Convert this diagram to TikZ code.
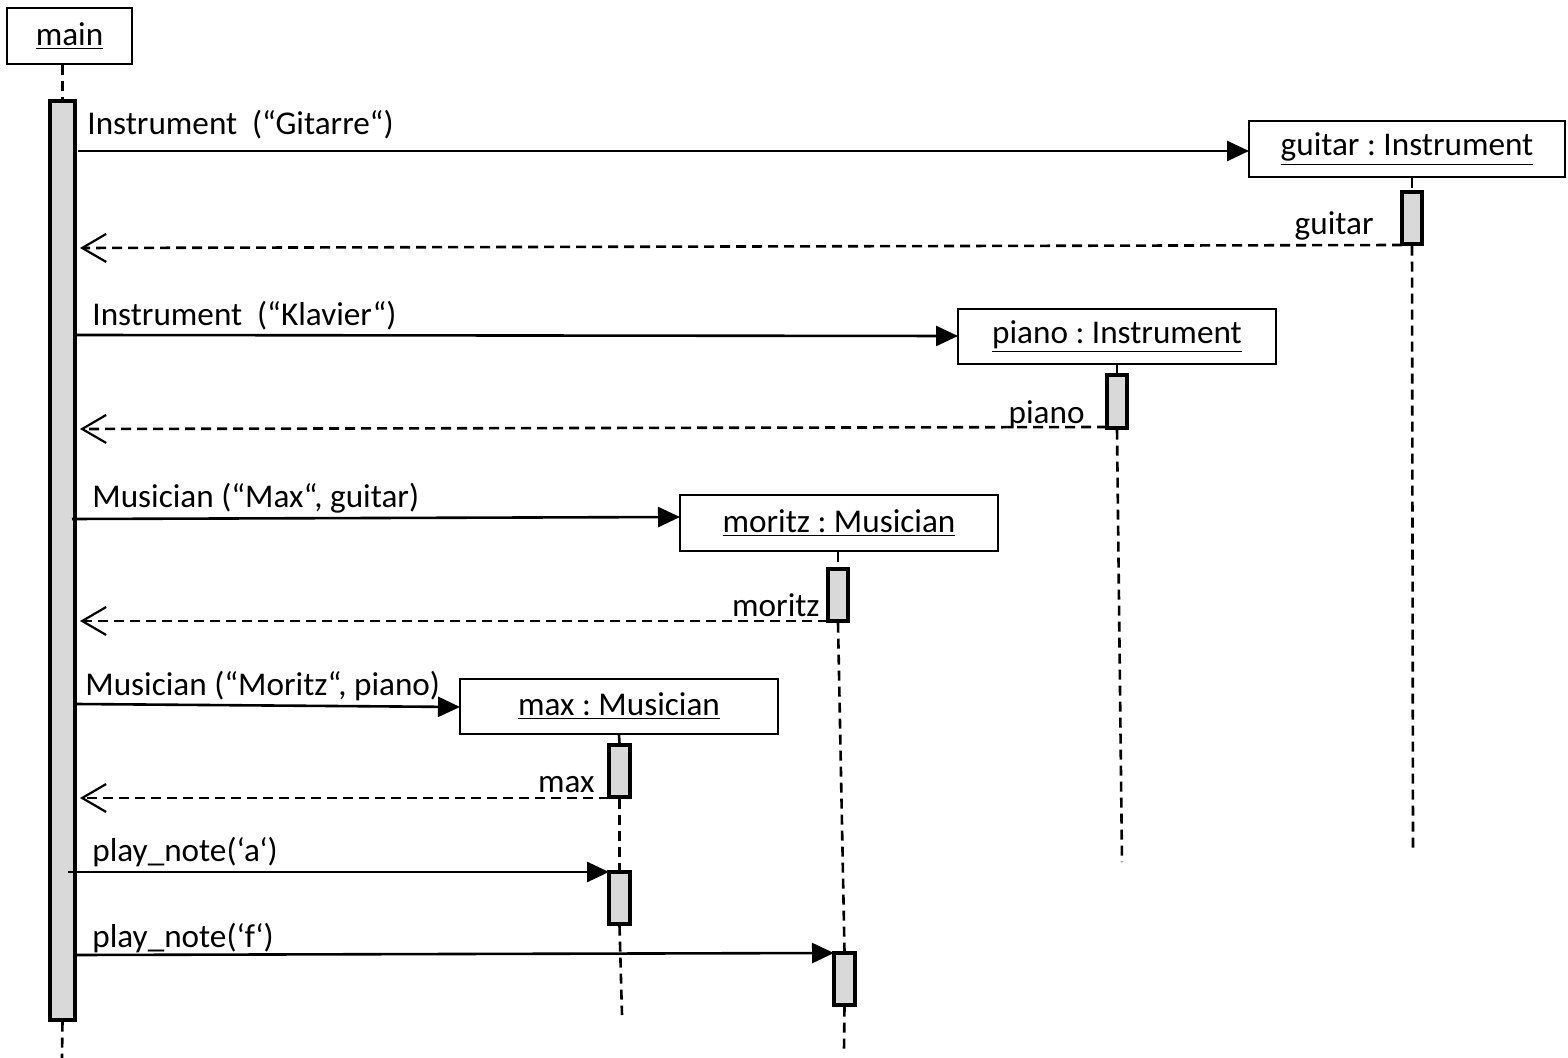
\documentclass[tikz,border=0pt]{standalone}
\usepackage{fontspec}
\setmainfont{Carlito}
\usetikzlibrary{arrows.meta}
\definecolor{actgray}{HTML}{D9D9D9}
\frenchspacing
\begin{document}
\begin{tikzpicture}[x=0.5pt,y=-0.5pt,
  objbox/.style={draw, line width=0.9pt, inner sep=0pt, font=\fontsize{16.6}{19}\selectfont\frenchspacing},
  act/.style={draw, line width=1.6pt, fill=actgray, inner sep=0pt, minimum width=10pt},
  msg/.style={line width=1.3pt, -{Triangle[length=11pt,width=10pt]}},
  ret/.style={line width=1.3pt, dash pattern=on 5pt off 3pt, -{Straight Barb[length=12pt,width=14pt,line width=1.1pt]}},
  life/.style={line width=1.3pt, dash pattern=on 5pt off 3pt},
  lbl/.style={inner sep=0pt, font=\fontsize{16.6}{19}\selectfont\frenchspacing}
]
\useasboundingbox[fill=white] (0,0) rectangle (1568,1058);

% object boxes
\node[objbox, minimum width=62.5pt, minimum height=28pt] (main) at (69.5,36) {\underline{main}};
\node[objbox, minimum width=158pt, minimum height=28pt] (guitar) at (1407,149) {\underline{guitar : Instrument}};
\node[objbox, minimum width=159pt, minimum height=27.5pt] (piano) at (1117,336.5) {\underline{piano : Instrument}};
\node[objbox, minimum width=159pt, minimum height=28pt] (moritz) at (839,523) {\underline{moritz : Musician}};
\node[objbox, minimum width=159pt, minimum height=27.5pt] (max) at (619,706.5) {\underline{max : Musician}};

% lifeline ends
\coordinate (mainend) at (62,1058);
\coordinate (guitarend) at (1413,850);
\coordinate (pianoend) at (1122,862);
\coordinate (moritzend) at (844,1050);
\coordinate (maxend) at (622,1015);

% activations
\node[act, minimum width=12.5pt, minimum height=459.5pt] (mainact) at (62.5,560.5) {};
\node[act, minimum height=26pt] (gact) at (1412,218) {};
\node[act, minimum height=26.5pt] (pact) at (1117,401.5) {};
\node[act, minimum height=26pt] (mzactA) at (838,595) {};
\node[act, minimum width=10.5pt, minimum height=26pt] (mzactB) at (844.5,979) {};
\node[act, minimum width=10.5pt, minimum height=26pt] (mxactA) at (619.5,771) {};
\node[act, minimum width=10.5pt, minimum height=26pt] (mxactB) at (619.5,898) {};

% lifelines
\draw[life] (main.south -| mainact.north) -- (mainact.north);
\draw[life] (mainact.south) -- (mainend);
\draw[life] (guitar.south -| gact.north) -- (gact.north);
\draw[life] (gact.south) -- (guitarend);
\draw[life] (piano.south) -- (pact.north);
\draw[life] (pact.south) -- (pianoend);
\draw[life] (moritz.south -| mzactA.north) -- (mzactA.north);
\draw[life] (mzactA.south) -- (mzactB.north);
\draw[life] (mzactB.south) -- (moritzend);
\draw[life] (max.south) -- (mxactA.north);
\draw[life] (mxactA.south) -- (mxactB.north);
\draw[life] (mxactB.south) -- (maxend);

% message endpoints
\coordinate (s1) at (78,151);   \coordinate (e1) at (1249,151);
\coordinate (r1s) at (1402,245); \coordinate (r1e) at (80,248);
\coordinate (s2) at (76,335);   \coordinate (e2) at (958,336);
\coordinate (r2s) at (1107,427); \coordinate (r2e) at (80,429);
\coordinate (s3) at (72,519);   \coordinate (e3) at (680,517);
\coordinate (r3s) at (828,621); \coordinate (r3e) at (80,621);
\coordinate (s4) at (76,704);   \coordinate (e4) at (460,707);
\coordinate (r4s) at (609,798); \coordinate (r4e) at (80,798);
\coordinate (s5) at (68,872);   \coordinate (e5) at (609,872);
\coordinate (s6) at (76,955);   \coordinate (e6) at (834,953);

\draw[msg] (s1) -- (e1);
\draw[ret] (r1s) -- (r1e);
\draw[msg] (s2) -- (e2);
\draw[ret] (r2s) -- (r2e);
\draw[msg] (s3) -- (e3);
\draw[ret] (r3s) -- (r3e);
\draw[msg] (s4) -- (e4);
\draw[ret] (r4s) -- (r4e);
\draw[msg] (s5) -- (e5);
\draw[msg] (s6) -- (e6);

% labels
\node[lbl, anchor=base west] (l1) at (87,135) {Instrument\hspace{0.45em}(“Gitarre“)};
\node[lbl, anchor=base east] (lr1) at (1374,235) {guitar};
\node[lbl, anchor=base west] (l2) at (92,326) {Instrument\hspace{0.45em}(“Klavier“)};
\node[lbl, anchor=base east] (lr2) at (1085,424) {piano};
\node[lbl, anchor=base west] (l3) at (92,508) {Musician (“Max“, guitar)};
\node[lbl, anchor=base east] (lr3) at (820,616) {moritz};
\node[lbl, anchor=base west] (l4) at (85,695) {Musician (“Moritz“, piano)};
\node[lbl, anchor=base east] (lr4) at (595,792) {max};
\node[lbl, anchor=base west] (l5) at (92,861) {play\_note(‘a‘)};
\node[lbl, anchor=base west] (l6) at (92,947) {play\_note(‘f‘)};
\end{tikzpicture}
\end{document}
